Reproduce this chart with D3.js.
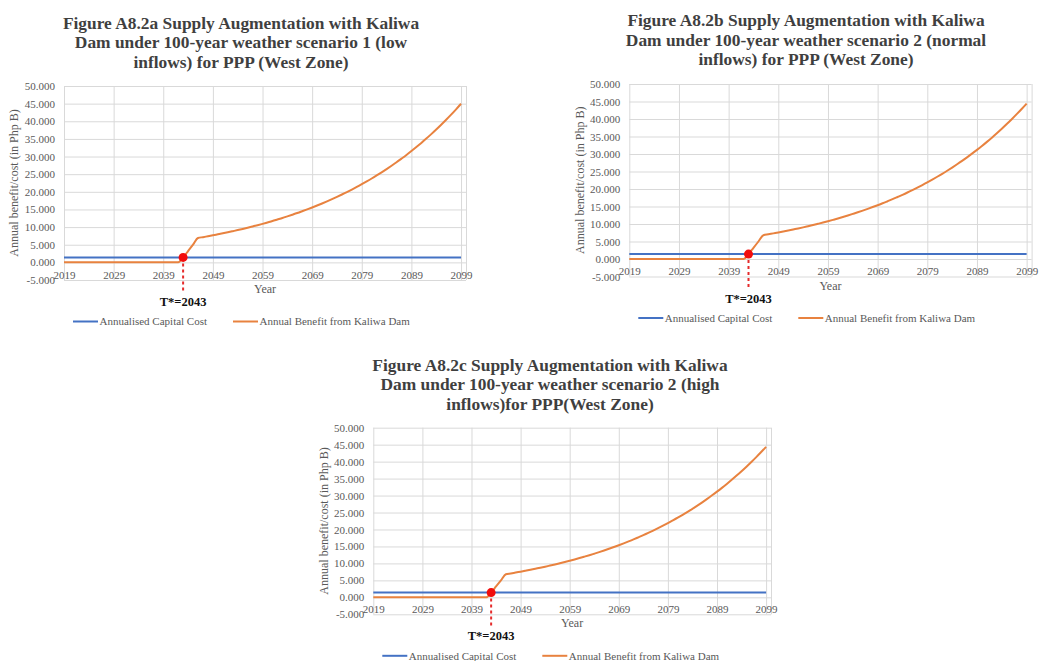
<!DOCTYPE html>
<html>
<head>
<meta charset="utf-8">
<script src="https://cdn.jsdelivr.net/npm/d3@7"></script>
<style>
  html, body { margin: 0; padding: 0; background: #ffffff; }
  svg { display: block; font-family: "Liberation Serif", "Times New Roman", serif; }
  svg text { font-family: "Liberation Serif", "Times New Roman", serif !important; }
</style>
</head>
<body>
<svg id="chart" width="1040" height="661"></svg>
<script>
// ---- Data -------------------------------------------------------------
const years = d3.range(2019, 2100);            // 2019 .. 2099
const xTickLabels = [2019, 2029, 2039, 2049, 2059, 2069, 2079, 2089, 2099];
const yTickLabels = [-5, 0, 5, 10, 15, 20, 25, 30, 35, 40, 45, 50];
const crossoverYear = 2043;

const seriesNames = ["Annualised Capital Cost", "Annual Benefit from Kaliwa Dam"];

// Annualised capital cost (Php B), flat across the horizon
const capitalCostA = 1.4;
const capitalCostB = 1.4;
const capitalCostC = 1.4;

// Annual benefit from Kaliwa Dam (Php B), one value per year 2019..2099
const benefitA = [
  0, 0, 0, 0, 0, 0, 0, 0, 0, 0,                       // 2019-2028
  0, 0, 0, 0, 0, 0, 0, 0, 0, 0,                       // 2029-2038
  0, 0, 0, 0, 1.4, 3.2, 5.0, 6.9, 7.15, 7.41,         // 2039-2048
  7.67, 7.95, 8.23, 8.53, 8.84, 9.15, 9.48, 9.82, 10.18, 10.54,     // 2049-2058
  10.92, 11.32, 11.72, 12.15, 12.58, 13.04, 13.51, 13.99, 14.50, 15.02, // 2059-2068
  15.56, 16.12, 16.70, 17.30, 17.92, 18.57, 19.24, 19.93, 20.65, 21.39, // 2069-2078
  22.16, 22.96, 23.78, 24.64, 25.53, 26.45, 27.40, 28.38, 29.41, 30.46, // 2079-2088
  31.56, 32.70, 33.87, 35.09, 36.36, 37.67, 39.02, 40.43, 41.88, 43.39, // 2089-2098
  44.96                                                                 // 2099
];
const benefitB = [
  0, 0, 0, 0, 0, 0, 0, 0, 0, 0,
  0, 0, 0, 0, 0, 0, 0, 0, 0, 0,
  0, 0, 0, 0, 1.4, 3.2, 5.0, 6.8, 7.06, 7.32,
  7.58, 7.85, 8.13, 8.43, 8.73, 9.04, 9.37, 9.70, 10.05, 10.41,
  10.79, 11.18, 11.58, 12.00, 12.43, 12.88, 13.34, 13.82, 14.32, 14.84,
  15.37, 15.92, 16.50, 17.09, 17.71, 18.34, 19.00, 19.69, 20.40, 21.13,
  21.89, 22.68, 23.50, 24.34, 25.22, 26.13, 27.07, 28.04, 29.05, 30.10,
  31.18, 32.30, 33.46, 34.67, 35.92, 37.21, 38.55, 39.94, 41.38, 42.87,
  44.41
];
const benefitC = [
  0, 0, 0, 0, 0, 0, 0, 0, 0, 0,
  0, 0, 0, 0, 0, 0, 0, 0, 0, 0,
  0, 0, 0, 0, 1.4, 3.2, 5.0, 6.8, 7.05, 7.31,
  7.57, 7.84, 8.12, 8.42, 8.72, 9.03, 9.36, 9.69, 10.04, 10.40,
  10.78, 11.17, 11.57, 11.99, 12.42, 12.87, 13.33, 13.81, 14.31, 14.83,
  15.36, 15.91, 16.48, 17.07, 17.69, 18.32, 18.98, 19.67, 20.38, 21.11,
  21.87, 22.66, 23.47, 24.32, 25.20, 26.10, 27.04, 28.01, 29.02, 30.07,
  31.15, 32.27, 33.43, 34.63, 35.88, 37.17, 38.51, 39.90, 41.33, 42.82,
  44.36
];

const titleA = ["Figure A8.2a Supply Augmentation with Kaliwa",
                "Dam under 100-year weather scenario 1 (low",
                "inflows) for PPP (West Zone)"];
const titleB = ["Figure A8.2b Supply Augmentation with Kaliwa",
                "Dam under 100-year weather scenario 2 (normal",
                "inflows) for PPP (West Zone)"];
const titleC = ["Figure A8.2c Supply Augmentation with Kaliwa",
                "Dam under 100-year weather scenario 2 (high",
                "inflows)for PPP(West Zone)"];

// ---- Styling ----------------------------------------------------------
const SERIF = "'Liberation Serif', 'Times New Roman', serif";
const COST_COLOR = "#4472C4";
const BENEFIT_COLOR = "#E8823F";
const GRID_COLOR = "#d9d9d9";
const LABEL_COLOR = "#595959";
const TITLE_COLOR = "#3f3f3f";

const svg = d3.select("#chart");

function drawPanel(cfg) {
  const g = svg.append("g");

  const x = d3.scaleLinear().domain([2019, 2100]).range([cfg.left, cfg.right]);
  const y = d3.scaleLinear().domain([-5, 50]).range([cfg.bottom, cfg.top]);

  // title
  const title = g.append("text")
    .attr("x", cfg.titleX)
    .attr("y", cfg.titleY)
    .attr("text-anchor", "middle")
    .style("font-size", "17.4px")
    .style("font-weight", "bold")
    .attr("fill", TITLE_COLOR);
  title.selectAll("tspan").data(cfg.title).join("tspan")
    .attr("x", cfg.titleX)
    .attr("dy", (d, i) => i === 0 ? 0 : 19.5)
    .text(d => d);

  // horizontal gridlines
  g.append("g")
    .attr("transform", `translate(${cfg.left},0)`)
    .call(d3.axisLeft(y).tickValues(yTickLabels).tickSize(-(cfg.right - cfg.left)).tickFormat(""))
    .call(s => s.select(".domain").remove())
    .call(s => s.selectAll("line").attr("stroke", GRID_COLOR).attr("stroke-width", 1));

  // vertical gridlines (plus right edge of plot area)
  g.append("g")
    .attr("transform", `translate(0,${cfg.bottom})`)
    .call(d3.axisBottom(x).tickValues(xTickLabels.concat([2100])).tickSize(-(cfg.bottom - cfg.top)).tickFormat(""))
    .call(s => s.select(".domain").remove())
    .call(s => s.selectAll("line").attr("stroke", GRID_COLOR).attr("stroke-width", 1));

  // y tick labels
  g.append("g")
    .attr("transform", `translate(${cfg.left},0)`)
    .call(d3.axisLeft(y).tickValues(yTickLabels).tickSize(0).tickPadding(9).tickFormat(d => d.toFixed(3)))
    .attr("font-family", SERIF)
    .attr("font-size", 11)
    .call(s => s.select(".domain").remove())
    .call(s => s.selectAll("text").attr("fill", LABEL_COLOR));

  // x tick labels hang just under the zero line
  g.append("g")
    .attr("transform", `translate(0,${y(0)})`)
    .call(d3.axisBottom(x).tickValues(xTickLabels).tickSize(0).tickPadding(cfg.xPad).tickFormat(d3.format("d")))
    .attr("font-family", SERIF)
    .attr("font-size", 11)
    .call(s => s.select(".domain").remove())
    .call(s => s.selectAll("text").attr("fill", LABEL_COLOR));

  // axis titles
  g.append("text")
    .attr("transform", `translate(${cfg.left - 50},${(cfg.top + cfg.bottom) / 2}) rotate(-90)`)
    .attr("text-anchor", "middle")
    .attr("dy", "0.35em")
    .style("font-size", "12px")
    .attr("fill", LABEL_COLOR)
    .text("Annual benefit/cost (in Php B)");

  g.append("text")
    .attr("x", (cfg.left + cfg.right) / 2)
    .attr("y", cfg.bottom + 13)
    .attr("text-anchor", "middle")
    .style("font-size", "12px")
    .attr("fill", LABEL_COLOR)
    .text("Year");

  // series
  const costLine = d3.line().x(d => x(d)).y(() => y(cfg.cost));
  g.append("path")
    .attr("d", costLine(years))
    .attr("fill", "none")
    .attr("stroke", COST_COLOR)
    .attr("stroke-width", 2);

  const benefitLine = d3.line()
    .x((d, i) => x(years[i]))
    .y(d => y(d))
    .curve(d3.curveMonotoneX);
  g.append("path")
    .attr("d", benefitLine(cfg.benefit))
    .attr("fill", "none")
    .attr("stroke", BENEFIT_COLOR)
    .attr("stroke-width", 2);

  // break-even marker
  const cx = x(crossoverYear), cy = y(cfg.cost);
  g.append("line")
    .attr("x1", cx).attr("x2", cx)
    .attr("y1", cy).attr("y2", cfg.bottom + 12)
    .attr("stroke", "#e52b2b")
    .attr("stroke-width", 2)
    .attr("stroke-dasharray", "3,3");
  g.append("circle")
    .attr("cx", cx).attr("cy", cy).attr("r", 4.5)
    .attr("fill", "#f20d0d");
  g.append("text")
    .attr("x", cx)
    .attr("y", cfg.bottom + 26)
    .attr("text-anchor", "middle")
    .style("font-size", "12.5px")
    .style("font-weight", "bold")
    .attr("fill", "#111")
    .text(`T*=${crossoverYear}`);

  // legend
  const ly = cfg.bottom + 41.5;
  const legend = [
    { name: seriesNames[0], color: COST_COLOR, x0: cfg.left + 9 },
    { name: seriesNames[1], color: BENEFIT_COLOR, x0: cfg.left + 169 }
  ];
  legend.forEach(item => {
    g.append("line")
      .attr("x1", item.x0).attr("x2", item.x0 + 25)
      .attr("y1", ly).attr("y2", ly)
      .attr("stroke", item.color).attr("stroke-width", 2);
    g.append("text")
      .attr("x", item.x0 + 26.5)
      .attr("y", ly)
      .attr("dy", "0.35em")
      .style("font-size", "11px")
      .attr("fill", LABEL_COLOR)
      .text(item.name);
  });
}

drawPanel({ title: titleA, titleX: 241, titleY: 28.5,
            left: 64, right: 466, top: 86, bottom: 280, xPad: 9,
            cost: capitalCostA, benefit: benefitA });
drawPanel({ title: titleB, titleX: 806, titleY: 26,
            left: 629.3, right: 1031.6, top: 84, bottom: 276.5, xPad: 8,
            cost: capitalCostB, benefit: benefitB });
drawPanel({ title: titleC, titleX: 550, titleY: 370.5,
            left: 373.3, right: 771, top: 427.7, bottom: 614.3, xPad: 8,
            cost: capitalCostC, benefit: benefitC });
</script>
</body>
</html>
